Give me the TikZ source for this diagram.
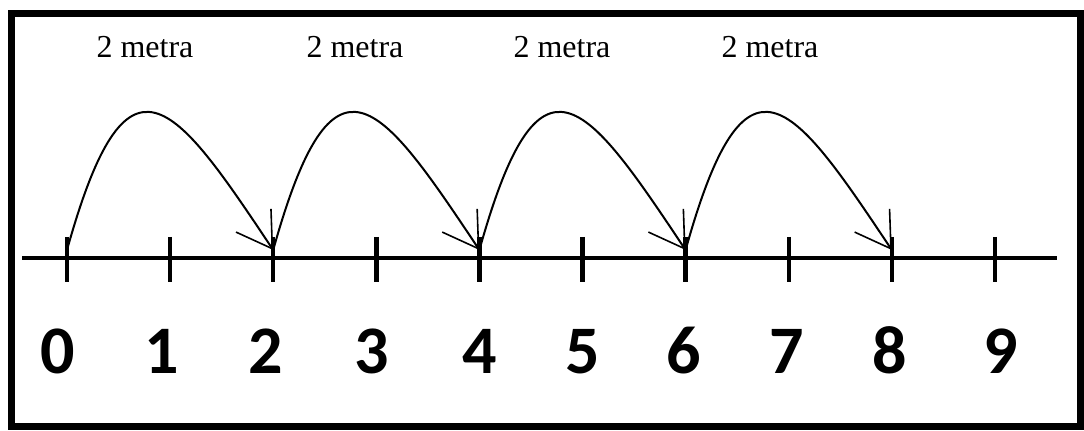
\documentclass[tikz,border=0pt]{standalone}
\usepackage{fontspec}
\setmainfont{Liberation Serif}
\newfontfamily\digitfont{Carlito}
\usetikzlibrary{arrows.meta}

\begin{document}
\begin{tikzpicture}[
  x=0.5pt, y=-0.5pt,
  frame/.style={line width=3.5pt},
  axis/.style={line width=2pt},
  tickmark/.style={line width=2.2pt},
  hop/.style={line width=1pt, -{Straight Barb[length=17pt, width=21pt, line width=0.8pt]}},
  num/.style={font=\digitfont\bfseries\fontsize{34}{34}\selectfont, anchor=base},
  dist/.style={font=\fontsize{16}{16}\selectfont, anchor=base}
]
  \useasboundingbox (0,0) rectangle (1084,431);
  \draw[frame] (11.5,13.5) rectangle (1080.5,427);

  % number line
  \coordinate (lend) at (22,258);
  \coordinate (rend) at (1057,258);
  \draw[axis] (lend) -- (rend);
  \foreach \i in {0,...,9} {
    \coordinate (t\i) at (67+103.1*\i,258);
    \coordinate (p\i) at (67+103.1*\i,250);
    \draw[tickmark] (t\i) ++(0,-21) -- ++(0,45);
  }

  % numbers
  \node[num] (n0) at (58,374) {0};
  \node[num] (n1) at (162,374) {1};
  \node[num] (n2) at (266,374) {2};
  \node[num] (n3) at (372,374) {3};
  \node[num] (n4) at (480,374) {4};
  \node[num] (n5) at (583,374) {5};
  \node[num] (n6) at (684,374) {6};
  \node[num] (n7) at (787,374) {7};
  \node[num] (n8) at (890,374) {8};
  \node[num] (n9) at (1001,374) {9};

  % jumps
  \draw[hop] (p0) .. controls +(60,-215) and +(-100,-150) .. (p2);
  \draw[hop] (p2) .. controls +(60,-215) and +(-100,-150) .. (p4);
  \draw[hop] (p4) .. controls +(60,-215) and +(-100,-150) .. (p6);
  \draw[hop] (p6) .. controls +(60,-215) and +(-100,-150) .. (p8);

  \node[dist] (m0) at (145,58) {2 metra};
  \node[dist] (m1) at (355,58) {2 metra};
  \node[dist] (m2) at (562,58) {2 metra};
  \node[dist] (m3) at (770,58) {2 metra};
\end{tikzpicture}
\end{document}
